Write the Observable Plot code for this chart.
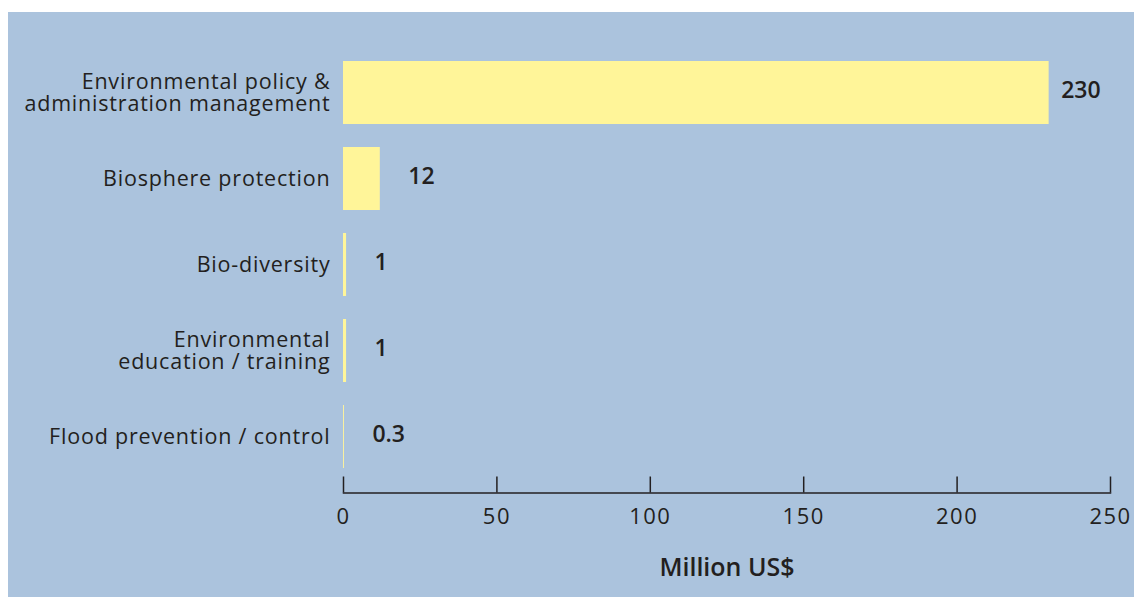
<!DOCTYPE html>
<html>
<head>
<meta charset="utf-8">
<script src="https://cdn.jsdelivr.net/npm/d3@7"></script>
<script src="https://cdn.jsdelivr.net/npm/@observablehq/plot@0.6"></script>
<style>
  html, body { margin: 0; padding: 0; background: #ffffff; }
  #panel { position: absolute; left: 8px; top: 12px; width: 1126px; height: 585px; background: #abc3dd; }
  #panel svg { display: block; background: transparent; }
  #panel svg g[aria-label="y-axis tick label"] text { letter-spacing: 0.8px; }
  #panel svg g[aria-label="x-axis tick label"] text { letter-spacing: 1.5px; }
</style>
</head>
<body>
<div id="panel"></div>
<script>
const categories = [
  "Environmental policy &\nadministration management",
  "Biosphere protection",
  "Bio-diversity",
  "Environmental\neducation / training",
  "Flood prevention / control"
];
const values = [230, 12, 1, 1, 0.3];
const valueLabels = ["230", "12", "1", "1", "0.3"];
const xTicks = [0, 50, 100, 150, 200, 250];
const xLabel = "Million US$";

const data = categories.map((c, i) => ({category: c, value: values[i], label: valueLabels[i]}));

const ink = "#231f20";
const font = "'Open Sans', Lato, sans-serif";

const chart = Plot.plot({
  width: 1126,
  height: 585,
  marginLeft: 335,
  marginRight: 24,
  marginTop: 25,
  marginBottom: 104.5,
  style: {fontFamily: font, color: ink, background: "transparent"},
  x: {domain: [0, 250]},
  y: {domain: categories, paddingInner: 0.27, paddingOuter: 0.27},
  marks: [
    Plot.barX(data, {y: "category", x: "value", fill: "#fff599"}),
    Plot.text(data.filter(d => d.value >= 100), {y: "category", x: "value", text: "label", textAnchor: "start", dx: 12, dy: -2, fontSize: 23, fontWeight: 600, fill: ink}),
    Plot.text(data.filter(d => d.value < 100), {y: "category", x: "value", text: "label", textAnchor: "start", dx: 28, dy: -2, fontSize: 23, fontWeight: 600, fill: ink}),
    Plot.frame({anchor: "bottom", stroke: ink, strokeWidth: 1.5}),
    Plot.axisX(xTicks, {tickSize: -16, tickFormat: () => "", stroke: ink, strokeWidth: 1.5, label: null}),
    Plot.axisX(xTicks, {tickSize: 0, tickPadding: 15, fontSize: 22, fill: ink, label: null}),
    Plot.axisY({tickSize: 0, tickPadding: 13, fontSize: 21.5, lineHeight: 1.02, fill: ink, label: null}),
    Plot.text([xLabel], {frameAnchor: "bottom", dy: 83, fontSize: 25, fontWeight: 600, fill: ink})
  ]
});
document.getElementById("panel").appendChild(chart);
</script>
</body>
</html>
